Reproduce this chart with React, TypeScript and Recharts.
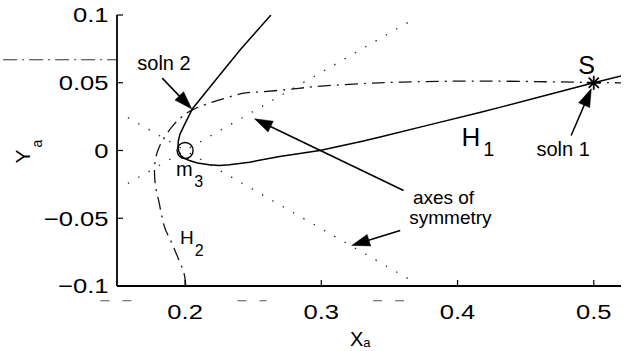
import React from 'react';
import { ComposedChart, Line, XAxis, YAxis, ReferenceLine, ReferenceDot, Label } from 'recharts';

const FONT = '"Liberation Sans", Arial, Helvetica, sans-serif';
const INK = '#000';

// axis ticks
const xTicks = [0.2, 0.3, 0.4, 0.5];
const yTicks = [-0.1, -0.05, 0, 0.05, 0.1];
const xDomain = [0.15, 0.52];
const yDomain = [-0.1, 0.1];

// hyperbola H1 (solid)
const h1Xs = [0.263, 0.2411, 0.2251, 0.2054, 0.1993, 0.1962, 0.1950, 0.1948, 0.1955, 0.1969, 0.1995, 0.2031, 0.2090, 0.2177, 0.2250, 0.2325, 0.2472, 0.2694, 0.2989, 0.3309, 0.3432, 0.38, 0.417, 0.4317, 0.465, 0.5, 0.521];
const h1Ys = [0.1, 0.0751, 0.0554, 0.0308, 0.0185, 0.0120, 0.0070, 0.0025, -0.0010, -0.0037, -0.0058, -0.0074, -0.0092, -0.0106, -0.0110, -0.0106, -0.0086, -0.0044, 0.0, 0.007, 0.01, 0.0191, 0.0283, 0.032, 0.0408, 0.05, 0.0553];

// hyperbola H2 (dash-dot)
const h2Xs = [0.2005, 0.1993, 0.1956, 0.1888, 0.1845, 0.1808, 0.1784, 0.1775, 0.1785, 0.1812, 0.186, 0.1925, 0.199, 0.2054, 0.22, 0.241, 0.251, 0.275, 0.3, 0.333, 0.36, 0.42, 0.5, 0.521];
const h2Ys = [-0.1, -0.091, -0.0812, -0.0652, -0.0553, -0.038, -0.027, -0.015, -0.005, 0.003, 0.0115, 0.02, 0.026, 0.03, 0.0357, 0.0419, 0.043, 0.045, 0.0475, 0.0495, 0.0505, 0.0512, 0.0502, 0.05];

// axes of symmetry (dotted)
const symAXs = [0.158, 0.365];
const symAYs = [-0.0243, 0.0953];
const symBXs = [0.158, 0.365];
const symBYs = [0.0243, -0.0953];

// special points
const sensorM3 = { x: 0.2, y: 0 };
const sourceS = { x: 0.5, y: 0.05 };

// annotation arrows: tail -> tip
const arrows = [
  [{ x: 0.1832, y: 0.0534 }, { x: 0.2049, y: 0.0307 }],
  [{ x: 0.3604, y: -0.0295 }, { x: 0.2509, y: 0.0234 }],
  [{ x: 0.3579, y: -0.059 }, { x: 0.3223, y: -0.0701 }],
  [{ x: 0.4834, y: 0.0111 }, { x: 0.4982, y: 0.0456 }],
];

// stray print marks outside the axes
const strayDashDot = [{ x: 0.0664, y: 0.067 }, { x: 0.15, y: 0.067 }];
const strayDashes = [
  [{ x: 0.1378, y: -0.1109 }, { x: 0.1607, y: -0.1109 }],
  [{ x: 0.2384, y: -0.1109 }, { x: 0.2598, y: -0.1109 }],
  [{ x: 0.338, y: -0.1109 }, { x: 0.3616, y: -0.1109 }],
];

const zip = (xs: number[], ys: number[]) => xs.map((x, i) => ({ x, y: ys[i] }));
const h1 = zip(h1Xs, h1Ys);
const h2 = zip(h2Xs, h2Ys);
const symA = zip(symAXs, symAYs);
const symB = zip(symBXs, symBYs);

const fmt = (v: number) => String(v).replace('-', '\u2212');

const XTick = (props: any) => {
  const { x, y, payload } = props;
  return (
    <text x={x} y={y} dy={15} textAnchor="middle" fontSize={21} fontFamily={FONT} fill={INK}
      transform={`translate(${x} 0) scale(1.22 1) translate(${-x} 0)`}>
      {fmt(payload.value)}
    </text>
  );
};

const YTick = (props: any) => {
  const { x, y, payload } = props;
  return (
    <text x={x} y={y} dy={7.5} textAnchor="end" fontSize={21} fontFamily={FONT} fill={INK}
      transform={`translate(${x} 0) scale(1.22 1) translate(${-x} 0)`}>
      {fmt(payload.value)}
    </text>
  );
};

const XName = (props: any) => {
  const vb = props.viewBox;
  const x = vb.x + vb.width / 2 - 19;
  const y = vb.y + 60;
  return (
    <text x={x} y={y} fontSize={20} fontFamily={FONT} fill={INK}>
      X<tspan dy={1} fontSize={13}>a</tspan>
    </text>
  );
};

const YName = (props: any) => {
  const vb = props.viewBox;
  const cx = vb.x - 27;
  const cy = vb.y + vb.height / 2 + 13;
  return (
    <text transform={`translate(${cx} ${cy}) rotate(-90)`} x={0} y={0} fontSize={21} fontFamily={FONT} fill={INK}>
      Y<tspan dx={2} dy={12} fontSize={14}>a</tspan>
    </text>
  );
};

const ArrowShape = (p: any) => {
  const { x1, y1, x2, y2 } = p;
  const dx = x2 - x1;
  const dy = y2 - y1;
  const len = Math.hypot(dx, dy) || 1;
  const ux = dx / len;
  const uy = dy / len;
  const hl = 18;
  const hw = 6;
  const bx = x2 - ux * hl;
  const by = y2 - uy * hl;
  const pts = `${x2},${y2} ${bx - uy * hw},${by + ux * hw} ${bx + uy * hw},${by - ux * hw}`;
  return (
    <g>
      <line x1={x1} y1={y1} x2={bx + ux * 2} y2={by + uy * 2} stroke={INK} strokeWidth={1.5} />
      <polygon points={pts} fill={INK} stroke={INK} strokeWidth={0.5} />
    </g>
  );
};

const StarShape = (p: any) => {
  const { cx, cy } = p;
  const r = 7;
  const d = r * 0.72;
  return (
    <g stroke={INK} strokeWidth={1.8}>
      <line x1={cx - r} y1={cy} x2={cx + r} y2={cy} />
      <line x1={cx} y1={cy - r} x2={cx} y2={cy + r} />
      <line x1={cx - d} y1={cy - d} x2={cx + d} y2={cy + d} />
      <line x1={cx - d} y1={cy + d} x2={cx + d} y2={cy - d} />
    </g>
  );
};

const textShape = (text: string, size: number, anchor: string, sub?: string, subSize?: number, subDx?: number, subDy?: number) =>
  (p: any) => (
    <text x={p.cx} y={p.cy} fontSize={size} fontFamily={FONT} fill={INK} textAnchor={anchor}>
      {text}
      {sub ? <tspan dx={subDx} dy={subDy} fontSize={subSize}>{sub}</tspan> : null}
    </text>
  );

export default function App() {
  return (
    <div style={{ position: 'absolute', left: 0, top: 0, width: 633, height: 351, background: '#fff' }}>
      <ComposedChart width={633} height={351} margin={{ top: 15, right: 12, bottom: 35, left: 57 }}>
        <XAxis xAxisId="b" type="number" dataKey="x" domain={xDomain} ticks={xTicks} interval={0}
          allowDataOverflow height={30} tickSize={-6} tickMargin={24}
          axisLine={{ stroke: INK, strokeWidth: 1.8 }} tickLine={{ stroke: INK, strokeWidth: 1.2 }} tick={<XTick />}>
          <Label content={<XName />} />
        </XAxis>
        <XAxis xAxisId="t" orientation="top" type="number" dataKey="x" domain={xDomain} ticks={xTicks} interval={0}
          allowDataOverflow height={0} tickSize={-6} tick={false}
          axisLine={{ stroke: INK, strokeWidth: 1.5 }} tickLine={{ stroke: INK, strokeWidth: 1.2 }} />
        <YAxis yAxisId="l" type="number" dataKey="y" domain={yDomain} ticks={yTicks} interval={0}
          allowDataOverflow width={60} tickSize={-6} tickMargin={14.5}
          axisLine={{ stroke: INK, strokeWidth: 1.8 }} tickLine={{ stroke: INK, strokeWidth: 1.2 }} tick={<YTick />}>
          <Label content={<YName />} />
        </YAxis>
        <YAxis yAxisId="r" orientation="right" type="number" dataKey="y" domain={yDomain} ticks={yTicks} interval={0}
          allowDataOverflow width={0} tickSize={-6} tick={false}
          axisLine={{ stroke: INK, strokeWidth: 1.5 }} tickLine={{ stroke: INK, strokeWidth: 1.2 }} />

        <Line xAxisId="b" yAxisId="l" data={symA} dataKey="y" type="linear" dot={false} stroke="#222"
          strokeWidth={1.3} strokeDasharray="1.4 10.5" isAnimationActive={false} />
        <Line xAxisId="b" yAxisId="l" data={symB} dataKey="y" type="linear" dot={false} stroke="#222"
          strokeWidth={1.3} strokeDasharray="1.4 10.5" isAnimationActive={false} />
        <Line xAxisId="b" yAxisId="l" data={h2} dataKey="y" type="natural" dot={false} stroke="#111"
          strokeWidth={1.3} strokeDasharray="13 6 2 6" isAnimationActive={false} />
        <Line xAxisId="b" yAxisId="l" data={h1} dataKey="y" type="linear" dot={false} stroke="#000"
          strokeWidth={1.5} isAnimationActive={false} />

        <ReferenceLine xAxisId="b" yAxisId="l" segment={strayDashDot} ifOverflow="visible" stroke="#333"
          strokeWidth={1.1} strokeDasharray="14 5 2 5" />
        {strayDashes.map((s, i) => (
          <ReferenceLine key={`sd${i}`} xAxisId="b" yAxisId="l" segment={s} ifOverflow="visible" stroke="#555"
            strokeWidth={1.1} strokeDasharray="9 13" />
        ))}

        {arrows.map((a, i) => (
          <ReferenceLine key={`ar${i}`} xAxisId="b" yAxisId="l" segment={a} ifOverflow="visible" shape={ArrowShape} />
        ))}

        <ReferenceDot xAxisId="b" yAxisId="l" x={sensorM3.x} y={sensorM3.y} r={8} fill="none" stroke={INK} strokeWidth={1.4} />
        <ReferenceDot xAxisId="b" yAxisId="l" x={sourceS.x} y={sourceS.y} shape={StarShape} />

        <ReferenceDot xAxisId="b" yAxisId="l" x={0.1845} y={0.0596} shape={textShape('soln 2', 20, 'middle')} />
        <ReferenceDot xAxisId="b" yAxisId="l" x={0.4948} y={0.0566} shape={textShape('S', 25, 'middle')} />
        <ReferenceDot xAxisId="b" yAxisId="l" x={0.4029} y={0.0035} shape={textShape('H', 26, 'start', '1', 20, 3, 10)} />
        <ReferenceDot xAxisId="b" yAxisId="l" x={0.1963} y={-0.0689} shape={textShape('H', 19, 'start', '2', 16, 1, 12)} />
        <ReferenceDot xAxisId="b" yAxisId="l" x={0.1934} y={-0.0185} shape={textShape('m', 20, 'start', '3', 16, 1.5, 11.6)} />
        <ReferenceDot xAxisId="b" yAxisId="l" x={0.4775} y={-0.0039} shape={textShape('soln 1', 20, 'middle')} />
        <ReferenceDot xAxisId="b" yAxisId="l" x={0.3897} y={-0.0395} shape={textShape('axes of', 19, 'middle')} />
        <ReferenceDot xAxisId="b" yAxisId="l" x={0.3948} y={-0.0545} shape={textShape('symmetry', 19, 'middle')} />
      </ComposedChart>
    </div>
  );
}
